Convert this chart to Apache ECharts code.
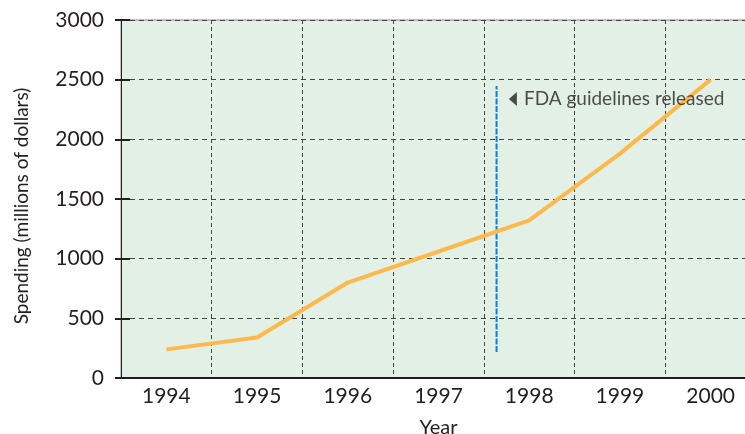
<!DOCTYPE html>
<html><head><meta charset="utf-8">
<script src="https://cdn.jsdelivr.net/npm/echarts@6/dist/echarts.min.js"></script>
<style>html,body{margin:0;padding:0;background:#fff}#c{width:745px;height:434px}</style>
</head><body><div id="c"></div>
<script>
const years = ['1994','1995','1996','1997','1998','1999','2000'];
const spending = [240, 340, 800, 1060, 1320, 1880, 2500];
const yTicks = [0, 500, 1000, 1500, 2000, 2500, 3000];
const fdaYear = 1997.64;
const fdaSpan = [218, 2447];
const fdaLabelPos = [1997.82, 2337];
const fdaLabel = 'FDA guidelines released';

const FONT = 'Lato';
const chart = echarts.init(document.getElementById('c'), null, {renderer:'canvas'});
chart.setOption({
  animation: false,
  textStyle: {fontFamily: FONT},
  grid: {left: 121, top: 20, right: -11, bottom: 56, show: true, containLabel: false,
         outerBoundsMode: 'none',
         backgroundColor: '#e2f0e5', borderColor: '#8a8a8a', borderWidth: 1},
  xAxis: [{
    type: 'category', data: years, boundaryGap: true,
    name: 'Year', nameLocation: 'middle', nameGap: 40,
    nameTextStyle: {fontSize: 20, color: '#231f20', fontFamily: FONT},
    axisLine: {lineStyle: {color: '#231f20', width: 2}},
    axisTick: {length: 10, lineStyle: {color: '#231f20', width: 2},
               interval: function(i){ return i !== 0; }},
    axisLabel: {fontSize: 21, color: '#231f20', margin: 8, fontFamily: FONT},
    splitLine: {show: true, lineStyle: {color: '#444', type: [4,3], width: 1}}
  }, {
    type: 'value', min: 1993.5, max: 2000.5, show: false
  }],
  yAxis: [{
    type: 'value', min: 0, max: 3000, interval: 500,
    name: 'Spending (millions of dollars)', nameLocation: 'middle', nameGap: 90,
    nameTextStyle: {fontSize: 19, color: '#231f20', fontFamily: FONT, padding: [0, 14, 0, 0]},
    axisLine: {show: true, lineStyle: {color: '#231f20', width: 1}},
    axisTick: {show: true, length: 6, lineStyle: {color: '#231f20', width: 2}},
    axisLabel: {fontSize: 21, color: '#231f20', margin: 17, fontFamily: FONT,
      formatter: function(v){ return yTicks.indexOf(v) >= 0 ? String(v) : ''; }},
    splitLine: {show: true, lineStyle: {color: '#444', type: [5,4], width: 1}}
  }, {
    type: 'value', min: 0, max: 3000, interval: 500, position: 'left',
    axisLine: {show: false},
    axisTick: {show: true, inside: true, length: 9, lineStyle: {color: '#231f20', width: 2}},
    axisLabel: {show: false}, splitLine: {show: false}
  }],
  series: [{
    type: 'line', data: spending, xAxisIndex: 0, yAxisIndex: 0,
    showSymbol: false, symbol: 'none',
    lineStyle: {color: '#fdb94d', width: 4}, z: 3
  }, {
    type: 'line', xAxisIndex: 1, yAxisIndex: 0, symbol: 'none',
    data: [[fdaYear, fdaSpan[0]], [fdaYear, fdaSpan[1]]],
    lineStyle: {color: '#1b7cc8', width: 2, type: [6,1.5]}, z: 2
  }, {
    type: 'scatter', xAxisIndex: 1, yAxisIndex: 0,
    data: [fdaLabelPos], symbol: 'triangle', symbolSize: [14, 8], symbolRotate: 90,
    itemStyle: {color: '#231f20'},
    label: {show: true, position: 'right', distance: 7, formatter: fdaLabel,
            fontSize: 19, color: '#231f20', fontFamily: FONT}, z: 4
  }]
});
</script></body></html>
